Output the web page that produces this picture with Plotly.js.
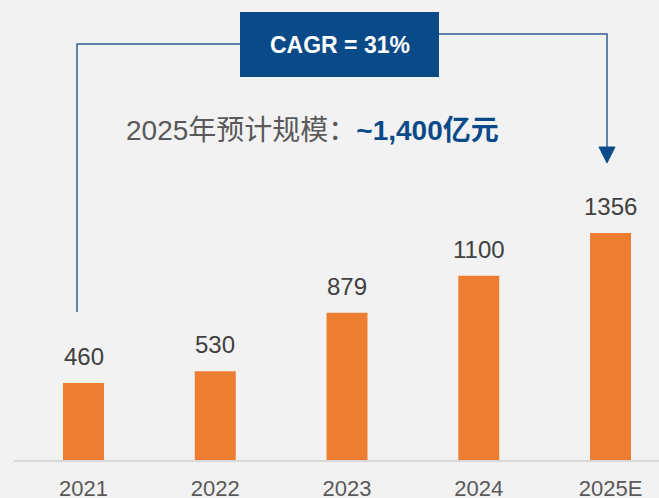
<!DOCTYPE html>
<html><head><meta charset="utf-8">
<script src="https://cdn.plot.ly/plotly-3.0.1.min.js"></script>
<style>html,body{margin:0;padding:0;background:#f2f2f2;}</style>
</head><body><div id="chart" style="width:659px;height:498px;"></div>
<script>
const categories = ["2021", "2022", "2023", "2024", "2025E"];
const values = [460, 530, 879, 1100, 1356];
const valueLabels = ["460", "530", "879", "1100", "1356"];
const cagrText = "CAGR = 31%";
const headline = "2025年预计规模：";
const headlineValue = "~1,400亿元";

const W = 659, H = 498, ML = 14, MR = 0, MT = 0, MB = 38;
const PW = W - ML - MR, PH = H - MT - MB;
const px = x => (x - ML) / PW;
const py = y => (H - MB - y) / PH;
const blue = "#0b4a88";

const trace = {
  type: "bar", x: categories, y: values, width: 0.311,
  marker: {color: "#ED7D31"}, hoverinfo: "skip"
};

const annotations = categories.map((c, i) => ({
  x: i, y: values[i], xref: "x", yref: "y", text: valueLabels[i],
  showarrow: false, yanchor: "bottom", yshift: 11,
  font: {family: "Liberation Sans, Arial, sans-serif", size: 24, color: "#404040"}
}));
annotations.push({
  x: px(339.5), y: py(45), xref: "paper", yref: "paper", text: "<b>" + cagrText + "</b>",
  showarrow: false, xanchor: "center", yanchor: "middle",
  font: {family: "Liberation Sans, Arial, sans-serif", size: 23, color: "#ffffff"}
});
annotations.push({
  x: px(124), y: py(130), xref: "paper", yref: "paper",
  text: headline + "<b><span style='color:" + blue + "'>" + headlineValue + "</span></b>",
  showarrow: false, xanchor: "left", yanchor: "middle",
  font: {family: "Liberation Sans, 'Noto Sans CJK SC', sans-serif", size: 28, color: "#595959"}
});

function P(pts) { return pts.map((p, i) => (i ? "L" : "M") + px(p[0]) + "," + py(p[1])).join(" "); }

const shapes = [
  {type: "path", xref: "paper", yref: "paper", path: P([[77, 312], [77, 44], [240, 44]]),
   line: {color: "#2f5f95", width: 1.5}},
  {type: "path", xref: "paper", yref: "paper", path: P([[439, 34], [607, 34], [607, 150]]),
   line: {color: "#2f5f95", width: 1.5}},
  {type: "path", xref: "paper", yref: "paper", path: P([[599, 147], [615, 147], [607, 163]]) + " Z",
   fillcolor: blue, line: {color: blue, width: 1}},
  {type: "rect", xref: "paper", yref: "paper", x0: px(240), x1: px(439), y0: py(77), y1: py(12),
   fillcolor: blue, line: {width: 0}}
];

const layout = {
  width: W, height: H,
  margin: {l: ML, r: MR, t: MT, b: MB, pad: 0},
  paper_bgcolor: "#f2f2f2", plot_bgcolor: "#f2f2f2",
  showlegend: false,
  xaxis: {type: "category", range: [-0.5275, 4.368], showgrid: false, zeroline: false,
    showline: true, linecolor: "#d9d9d9", linewidth: 1.5, ticks: "", ticklabelstandoff: 8,
    tickfont: {family: "Liberation Sans, Arial, sans-serif", size: 22, color: "#595959"}},
  yaxis: {range: [0, 2748], visible: false, showgrid: false, zeroline: false, fixedrange: true},
  annotations: annotations, shapes: shapes
};

Plotly.newPlot("chart", [trace], layout, {displayModeBar: false, staticPlot: true});
</script></body></html>
